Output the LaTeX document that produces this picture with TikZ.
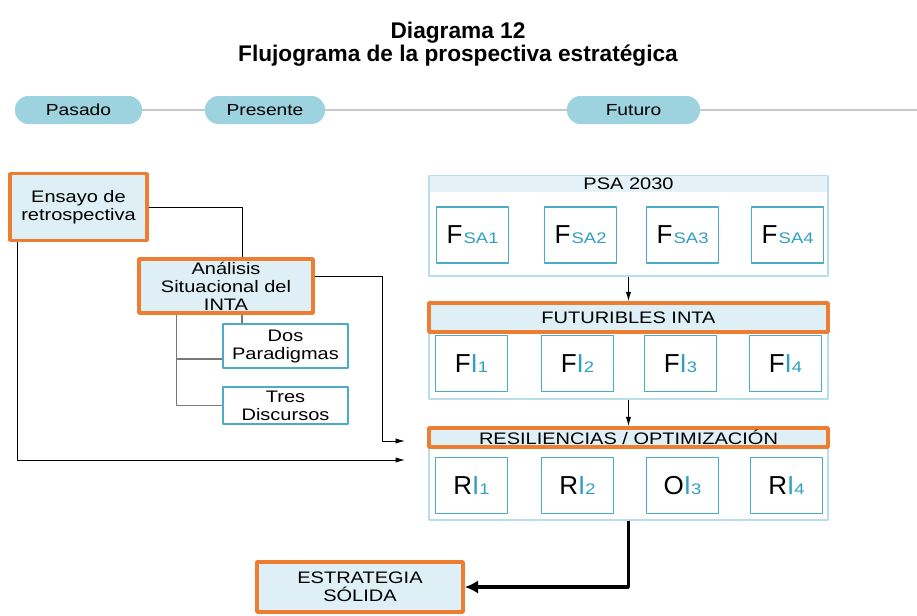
\documentclass[tikz,border=0pt]{standalone}
\usepackage{fontspec}
\setmainfont{Liberation Sans}
\newfontfamily\widefont[FakeStretch=1.2]{Liberation Sans}
\usepackage{tikz}
\usetikzlibrary{arrows.meta,shapes,positioning}
\definecolor{orangeline}{RGB}{237,125,49}
\definecolor{boxfill}{RGB}{222,239,245}
\definecolor{headfill}{RGB}{228,242,248}
\definecolor{cellline}{RGB}{75,172,198}
\definecolor{tealtxt}{RGB}{49,160,192}
\definecolor{pillfill}{RGB}{157,210,223}
\definecolor{panelline}{RGB}{185,222,234}
\definecolor{timeline}{RGB}{200,200,200}
\definecolor{branchline}{RGB}{120,120,120}
\newcommand{\biglet}[1]{{\fontsize{19.5}{22}\selectfont #1}}
\newcommand{\sublet}[1]{{\color{tealtxt}\widefont\fontsize{11.5}{14}\selectfont #1}}

\begin{document}
\begin{tikzpicture}[x=0.75pt,y=-0.75pt,>={Latex[length=7pt,width=4pt]},line join=bevel,
  boxtext/.style={font=\widefont\fontsize{12.5}{13.5}\selectfont,align=center,inner sep=1pt},
  headtext/.style={font=\widefont\fontsize{12.5}{13.5}\selectfont,align=center,inner sep=0pt},
  orangebox/.style={boxtext,draw=orangeline,line width=2.6pt,fill=boxfill},
  smallbox/.style={boxtext,draw=cellline,line width=0.9pt,fill=white,minimum width=93.75pt},
  cell/.style={draw=cellline,line width=0.9pt,fill=white,minimum width=54pt,minimum height=42pt,inner sep=0pt},
  panel/.style={draw=panelline,line width=1pt,minimum width=299.25pt,inner sep=0pt},
  pill/.style={boxtext,font=\widefont\fontsize{12}{13.5}\selectfont,fill=pillfill,rounded corners=10pt,minimum height=21pt},
  link/.style={draw=black,line width=0.75pt},
  branch/.style={draw=branchline,line width=1.1pt}]
\useasboundingbox (0,0) rectangle (917,615);
%%
\node (title) at (458,44) [font=\bfseries\fontsize{17}{16}\selectfont,align=center] {Diagrama 12\\Flujograma de la prospectiva estratégica};
%% time line
  \node (pasado) at (78.5,110) [pill,minimum width=95.25pt] {Pasado};
  \node (presente) at (265,110) [pill,minimum width=90pt] {Presente};
  \node (futuro) at (633.5,110) [pill,minimum width=99.75pt] {Futuro};
  \coordinate (lineend) at (917,110);
  \draw [timeline,line width=1.5pt] (pasado) -- (presente);
  \draw [timeline,line width=1.5pt] (presente) -- (futuro);
  \draw [timeline,line width=1.5pt] (futuro) -- (lineend);
%% left side
  \node (ensayo) at (78.5,207) [orangebox,minimum width=102.75pt,minimum height=50.25pt] {Ensayo de\\retrospectiva};
  \node (analisis) at (226,286) [orangebox,minimum width=130.5pt,minimum height=40.5pt] {Análisis\\Situacional del\\INTA};
  \node (dos) at (285.5,346) [smallbox,minimum height=33pt] {Dos\\Paradigmas};
  \node (tres) at (285.5,405.5) [smallbox,minimum height=27.75pt] {Tres\\Discursos};
  \node (estrategia) at (360,587) [orangebox,minimum width=154.5pt,minimum height=37.5pt] {ESTRATEGIA\\SÓLIDA};
%% right side
  \node (psapanel) at (628.5,226) [panel,minimum height=75pt] {};
  \node (psahead) at (628.5,184) [headtext,fill=headfill,minimum width=298pt,minimum height=12pt] {PSA 2030};
  \node (fsa1) at (472.5,235) [cell] {\biglet{F}\kern1pt\sublet{SA1}};
  \node (fsa2) at (580.5,235) [cell] {\biglet{F}\kern1pt\sublet{SA2}};
  \node (fsa3) at (682.5,235) [cell] {\biglet{F}\kern1pt\sublet{SA3}};
  \node (fsa4) at (787.5,235) [cell] {\biglet{F}\kern1pt\sublet{SA4}};
  \node (fipanel) at (628.5,351) [panel,minimum height=72pt] {};
  \node (futhead) at (628.5,317.5) [orangebox,headtext,minimum width=299.25pt,minimum height=21.75pt] {FUTURIBLES INTA};
  \node (fi1) at (471.5,363.5) [cell] {\biglet{F\textcolor{tealtxt}{I}}\sublet{1}};
  \node (fi2) at (577.5,363.5) [cell] {\biglet{F\textcolor{tealtxt}{I}}\sublet{2}};
  \node (fi3) at (680.5,363.5) [cell] {\biglet{F\textcolor{tealtxt}{I}}\sublet{3}};
  \node (fi4) at (785.5,363.5) [cell] {\biglet{F\textcolor{tealtxt}{I}}\sublet{4}};
  \node (ripanel) at (628.5,474) [panel,minimum height=69pt] {};
  \node (reshead) at (628.5,437.5) [orangebox,headtext,minimum width=299.25pt,minimum height=14.25pt] {RESILIENCIAS / OPTIMIZACIÓN};
  \node (ri1) at (471.5,485.5) [cell] {\biglet{R\textcolor{tealtxt}{I}}\sublet{1}};
  \node (ri2) at (577.5,485.5) [cell] {\biglet{R\textcolor{tealtxt}{I}}\sublet{2}};
  \node (oi3) at (682.5,485.5) [cell] {\biglet{O\textcolor{tealtxt}{I}}\sublet{3}};
  \node (ri4) at (786.5,485.5) [cell] {\biglet{R\textcolor{tealtxt}{I}}\sublet{4}};
%% connectors
  \coordinate (inupper) at (405,441);
  \coordinate (inlower) at (405,460);
  \coordinate (dosbranch) at ([yshift=-9.75pt]dos.west);
  \draw [link] (ensayo.east) -| ([xshift=12pt]analisis.north);
  \draw [link,->] ([yshift=7.5pt]analisis.east) -| ([xshift=-17pt]inupper) -- (inupper);
  \draw [link,->] ([xshift=-46pt]ensayo.south) |- (inlower);
  \draw [branch] ([xshift=12pt]analisis.south) -- ([xshift=12pt]analisis.south |- dos.north);
  \draw [branch] ([xshift=-37pt]analisis.south) |- (tres.west);
  \draw [branch] ([xshift=-37pt]analisis.south |- dosbranch) -- (dosbranch);
  \draw [link,->] (psapanel) -- (futhead);
  \draw [link,->] (fipanel) -- (reshead);
  \draw [-{Latex[length=10pt,width=10pt]},line width=2.4pt] (ripanel.south) |- (estrategia.east);
%
\end{tikzpicture}
\end{document}
